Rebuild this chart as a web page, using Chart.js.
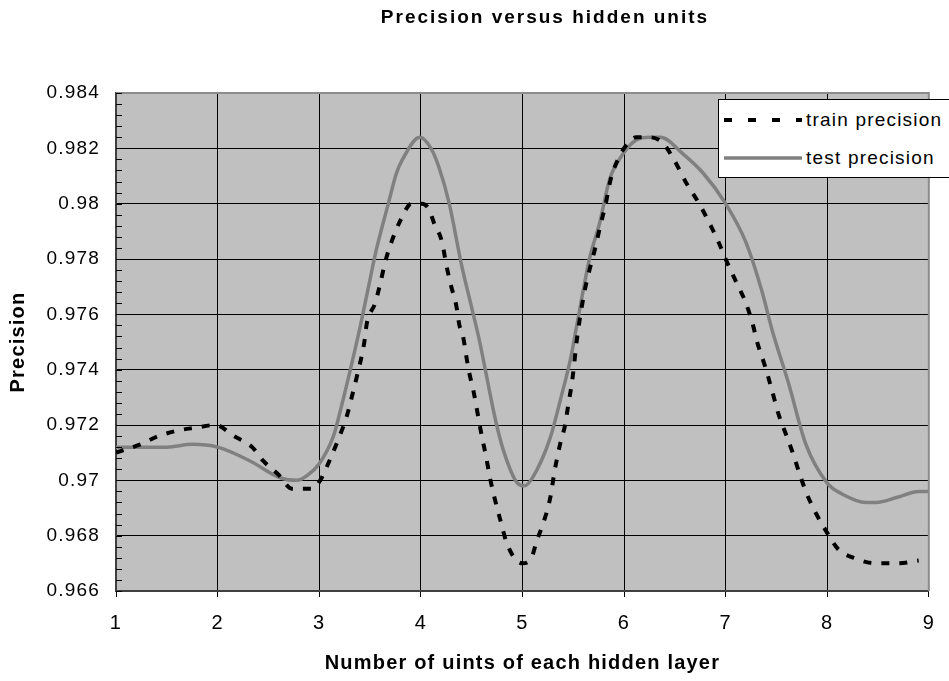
<!DOCTYPE html>
<html>
<head>
<meta charset="utf-8">
<script src="https://cdn.jsdelivr.net/npm/chart.js@4.4.1/dist/chart.umd.min.js"></script>
<style>
  body { margin: 0; background: #fff; overflow: hidden; }
  #wrap { position: relative; width: 949px; height: 681px; }
  #legend {
    position: absolute; left: 718px; top: 99px; width: 240px; height: 79px;
    background: #fff; border: 1px solid #000; box-sizing: border-box;
    font-family: Arial, "Liberation Sans", sans-serif; font-size: 19px;
    letter-spacing: 1.2px; color: #000;
  }
  .row { position: absolute; left: 0; height: 30px; display: flex; align-items: center; }
  .row svg { margin-left: 5px; }
  .row span { margin-left: 4px; white-space: nowrap; }
</style>
</head>
<body>
<div id="wrap">
  <canvas id="chart" width="949" height="681"></canvas>
  <div id="legend">
    <div class="row" style="top:5px">
      <svg width="78" height="10"><line x1="0" y1="5" x2="78" y2="5" stroke="#000" stroke-width="4" stroke-dasharray="8 16"/></svg>
      <span>train precision</span>
    </div>
    <div class="row" style="top:43px">
      <svg width="78" height="10"><line x1="1" y1="5" x2="77" y2="5" stroke="#808080" stroke-width="3.5" stroke-linecap="round"/></svg>
      <span>test precision</span>
    </div>
  </div>
</div>
<script>
const titleText = "Precision versus hidden units";
const xTitle = "Number of uints of each hidden layer";
const yTitle = "Precision";

const xTicks = [1, 2, 3, 4, 5, 6, 7, 8, 9];
const yTicks = [0.966, 0.968, 0.97, 0.972, 0.974, 0.976, 0.978, 0.98, 0.982, 0.984];
const minorStep = 0.0004;

// train precision
const trainX = [1.00, 1.24, 1.42, 1.61, 1.78, 1.98, 2.16, 2.34, 2.45, 2.60, 2.73, 2.78, 2.93, 3.01,
  3.10, 3.19, 3.27, 3.32, 3.38, 3.44, 3.47, 3.55, 3.60, 3.65, 3.71, 3.80, 3.91, 4.01, 4.08, 4.13,
  4.21, 4.25, 4.30, 4.35, 4.38, 4.41, 4.47, 4.52, 4.56, 4.60, 4.64, 4.68, 4.73, 4.78, 4.84, 4.92,
  5.00, 5.09, 5.14, 5.20, 5.27, 5.32, 5.37, 5.42, 5.45, 5.49, 5.54, 5.61, 5.66, 5.71, 5.76, 5.82,
  5.87, 5.94, 6.02, 6.12, 6.25, 6.38, 6.49, 6.62, 6.74, 6.84, 6.92, 7.00, 7.10, 7.20, 7.27, 7.31,
  7.39, 7.46, 7.52, 7.59, 7.66, 7.74, 7.80, 7.89, 8.00, 8.11, 8.26, 8.48, 8.69, 8.90];
const trainY = [0.9710, 0.9713, 0.9716, 0.9718, 0.9719, 0.9720, 0.9716, 0.9712, 0.9707, 0.9702, 0.9697, 0.9697, 0.9697, 0.9700,
  0.9707, 0.9715, 0.9723, 0.9730, 0.9739, 0.9749, 0.9757, 0.9764, 0.9771, 0.9779, 0.9786, 0.9794, 0.9800, 0.9800, 0.9798, 0.9793,
  0.9786, 0.9778, 0.9770, 0.9763, 0.9756, 0.9753, 0.9740, 0.9732, 0.9724, 0.9716, 0.9709, 0.9701, 0.9693, 0.9686, 0.9678, 0.9672,
  0.9670, 0.9672, 0.9678, 0.9684, 0.9693, 0.9704, 0.9713, 0.9720, 0.9727, 0.9736, 0.9752, 0.9768, 0.9776, 0.9783, 0.9791, 0.9800,
  0.9809, 0.9816, 0.9821, 0.9824, 0.9824, 0.9822, 0.9816, 0.9807, 0.9800, 0.9793, 0.9787, 0.9780, 0.9772, 0.9764, 0.9756, 0.9750,
  0.9741, 0.9732, 0.9724, 0.9717, 0.9710, 0.9701, 0.9695, 0.9688, 0.9681, 0.9675, 0.9672, 0.9670, 0.9670, 0.9671];

// test precision
const testX = [1.00, 1.50, 1.75, 2.00, 2.32, 2.61, 2.78, 2.89, 3.00, 3.14, 3.20, 3.30, 3.40, 3.48,
  3.56, 3.68, 3.76, 3.82, 3.99, 4.10, 4.18, 4.28, 4.40, 4.51, 4.58, 4.64, 4.74, 4.82, 4.95, 5.02,
  5.10, 5.27, 5.38, 5.48, 5.53, 5.66, 5.76, 5.86, 5.99, 6.12, 6.25, 6.36, 6.58, 6.78, 7.00, 7.20,
  7.36, 7.46, 7.62, 7.79, 8.00, 8.15, 8.38, 8.48, 8.70, 8.90, 9.00];
const testY = [0.9712, 0.9712, 0.9713, 0.9712, 0.9707, 0.9701, 0.9700, 0.9702, 0.9706, 0.9716, 0.9724, 0.9739, 0.9755, 0.9769,
  0.9783, 0.9800, 0.9811, 0.9816, 0.9824, 0.9820, 0.9813, 0.9800, 0.9778, 0.9761, 0.9750, 0.9739, 0.9721, 0.9710, 0.9699, 0.9698,
  0.9701, 0.9715, 0.9730, 0.9745, 0.9755, 0.9780, 0.9793, 0.9809, 0.9818, 0.9823, 0.9824, 0.9824, 0.9818, 0.9811, 0.9800, 0.9786,
  0.9768, 0.9754, 0.9735, 0.9713, 0.9699, 0.9695, 0.9692, 0.9692, 0.9694, 0.9696, 0.9696];

const family = 'Arial, "Liberation Sans", sans-serif';

function toPoints(xs, ys) {
  return xs.map((x, i) => ({ x: x, y: ys[i] }));
}

// grey plot area, top/right frame, inward minor ticks and the title
const excelLook = {
  id: "excelLook",
  beforeLayout(chart) {
    chart.ctx.letterSpacing = "1.2px";
  },
  beforeDraw(chart) {
    const { ctx, chartArea: a } = chart;
    ctx.letterSpacing = "1.2px";
    ctx.save();
    ctx.fillStyle = "#c0c0c0";
    ctx.fillRect(a.left, a.top, a.right - a.left, a.bottom - a.top);
    ctx.restore();
  },
  afterDraw(chart) {
    const { ctx, chartArea: a, scales } = chart;
    ctx.save();
    ctx.strokeStyle = "#8c8c8c";
    ctx.lineWidth = 2;
    ctx.beginPath();
    ctx.moveTo(a.left, a.top);
    ctx.lineTo(a.right, a.top);
    ctx.lineTo(a.right, a.bottom);
    ctx.stroke();

    ctx.strokeStyle = "#000";
    ctx.lineWidth = 1;
    const lo = yTicks[0], hi = yTicks[yTicks.length - 1];
    const n = Math.round((hi - lo) / minorStep);
    ctx.beginPath();
    for (let i = 0; i <= n; i++) {
      const y = Math.round(scales.y.getPixelForValue(lo + i * minorStep)) + 0.5;
      ctx.moveTo(a.left, y);
      ctx.lineTo(a.left + 6, y);
    }
    ctx.stroke();

    ctx.font = "bold 19px " + family;
    ctx.letterSpacing = "2px";
    ctx.fillStyle = "#000";
    ctx.textAlign = "center";
    ctx.textBaseline = "alphabetic";
    ctx.fillText(titleText, 545, 23);
    ctx.restore();
  }
};

const ctx = document.getElementById("chart").getContext("2d");
const chart = new Chart(ctx, {
  type: "line",
  data: {
    datasets: [
      {
        label: "train precision",
        data: toPoints(trainX, trainY),
        borderColor: "#000",
        borderWidth: 4,
        borderDash: [8, 10],
        pointRadius: 0,
        cubicInterpolationMode: "monotone",
        fill: false,
      },
      {
        label: "test precision",
        data: toPoints(testX, testY),
        borderColor: "#808080",
        borderWidth: 3.5,
        pointRadius: 0,
        cubicInterpolationMode: "monotone",
        fill: false,
      },
    ],
  },
  options: {
    responsive: false,
    devicePixelRatio: 1,
    animation: false,
    layout: { padding: { top: 93, right: 19, left: 0, bottom: 0 } },
    plugins: {
      legend: { display: false },
      title: { display: false },
      tooltip: { enabled: false },
    },
    scales: {
      x: {
        type: "linear",
        min: 1,
        max: 9,
        afterBuildTicks: (s) => { s.ticks = xTicks.map((v) => ({ value: v })); },
        afterFit: (s) => { s.height = 90; },
        grid: { color: "#000", lineWidth: 1, tickLength: 6 },
        border: { color: "#404040", width: 2 },
        ticks: { color: "#000", font: { size: 20, family: family }, padding: 14, maxRotation: 0, autoSkip: false },
        title: {
          display: true,
          text: xTitle,
          color: "#000",
          font: { size: 20, weight: "bold", family: family },
          padding: { top: 0, bottom: 6 },
        },
      },
      y: {
        min: yTicks[0],
        max: yTicks[yTicks.length - 1],
        afterBuildTicks: (s) => { s.ticks = yTicks.map((v) => ({ value: v })); },
        afterFit: (s) => { s.width = 116; },
        grid: { color: "#000", lineWidth: 1, drawTicks: false },
        border: { color: "#404040", width: 2 },
        ticks: {
          color: "#000",
          font: { size: 19, family: family },
          padding: 16,
          callback: (v) => String(+v.toFixed(3)),
        },
        title: {
          display: true,
          text: yTitle,
          color: "#000",
          font: { size: 20, weight: "bold", family: family },
          padding: { top: 6, bottom: 0 },
        },
      },
    },
  },
  plugins: [excelLook],
});
</script>
</body>
</html>
